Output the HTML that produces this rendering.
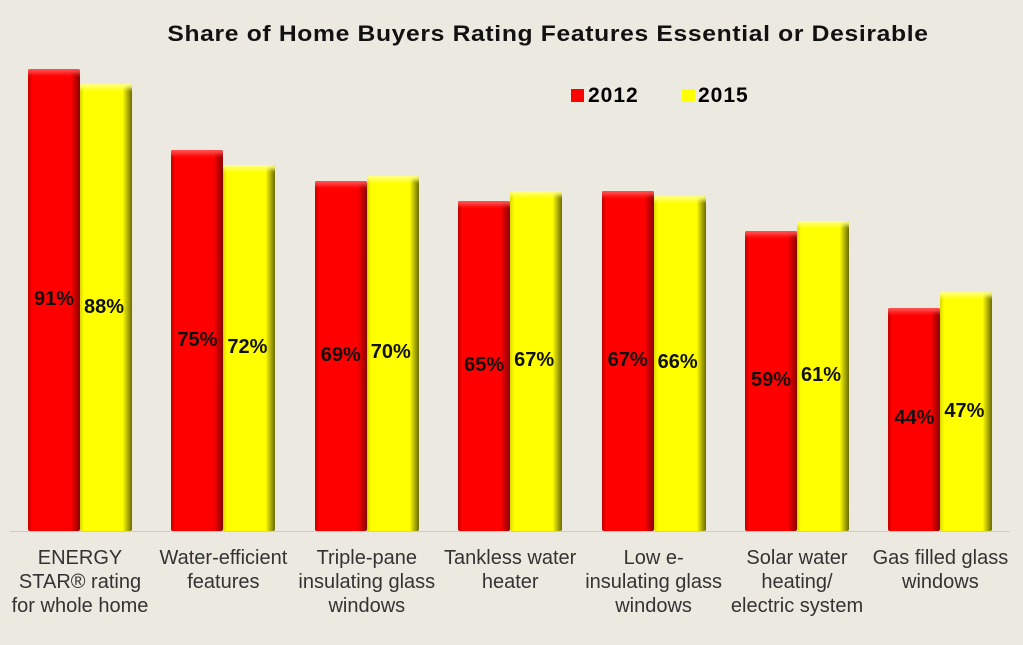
<!DOCTYPE html>
<html><head><style>
body{margin:0;width:1023px;height:645px;background:#ECE9E0;font-family:"Liberation Sans",sans-serif;position:relative;overflow:hidden}
.b{position:absolute;box-sizing:border-box;border-radius:2px}
.r{background:linear-gradient(90deg,#c00000 0,#ff0000 8%,#ff0000 82%,#8a0000 100%);box-shadow:inset 0 8px 4px -4px #ff5050}
.y{background:linear-gradient(90deg,#d8d800 0,#ffff00 8%,#ffff00 82%,#6a6a00 100%);box-shadow:inset 0 8px 4px -4px #ffff80}
.v{position:absolute;font-weight:bold;font-size:20px;color:#111;width:60px;text-align:center}
.c{position:absolute;font-size:20px;color:#333;width:170px;text-align:center;line-height:24px;top:546px}
</style></head><body>
<div style="position:absolute;top:21px;left:0;width:1096px;text-align:center;font-weight:bold;font-size:22px;letter-spacing:0.6px;color:#111;transform:scaleX(1.12);transform-origin:548px 0">Share of Home Buyers Rating Features Essential or Desirable</div>
<div style="position:absolute;left:571px;top:89px;width:13px;height:13px;background:#f00"></div>
<div style="position:absolute;left:588px;top:84px;font-weight:bold;font-size:21px;letter-spacing:1px">2012</div>
<div style="position:absolute;left:682px;top:89px;width:13px;height:13px;background:#ff0"></div>
<div style="position:absolute;left:698px;top:84px;font-weight:bold;font-size:21px;letter-spacing:1px">2015</div>
<div style="position:absolute;left:10px;top:531px;width:1000px;height:1px;background:#ccc"></div>
<div id="g"></div>
<script>
var d=[[91,88,"ENERGY<br>STAR® rating<br>for whole home"],[75,72,"Water-efficient<br>features"],[69,70,"Triple-pane<br>insulating glass<br>windows"],[65,67,"Tankless water<br>heater"],[67,66,"Low e-<br>insulating glass<br>windows"],[59,61,"Solar water<br>heating/<br>electric system"],[44,47,"Gas filled glass<br>windows"]];
var h="";d.forEach(function(e,i){var x=28+i*143.4;
[[e[0],x,"r",0],[e[1],x+52,"y",-2]].forEach(function(p){var t=531-5.077*p[0];
h+='<div class="b '+p[2]+'" style="left:'+p[1]+'px;top:'+t+'px;width:52px;height:'+(531-t)+'px"></div>';
h+='<div class="v" style="left:'+(p[1]-4+p[3])+'px;top:'+((t+531)/2-12)+'px">'+p[0]+'%</div>';});
h+='<div class="c" style="left:'+(x+52-85)+'px">'+e[2]+'</div>';});
document.getElementById("g").innerHTML=h;
</script>
</body></html>
